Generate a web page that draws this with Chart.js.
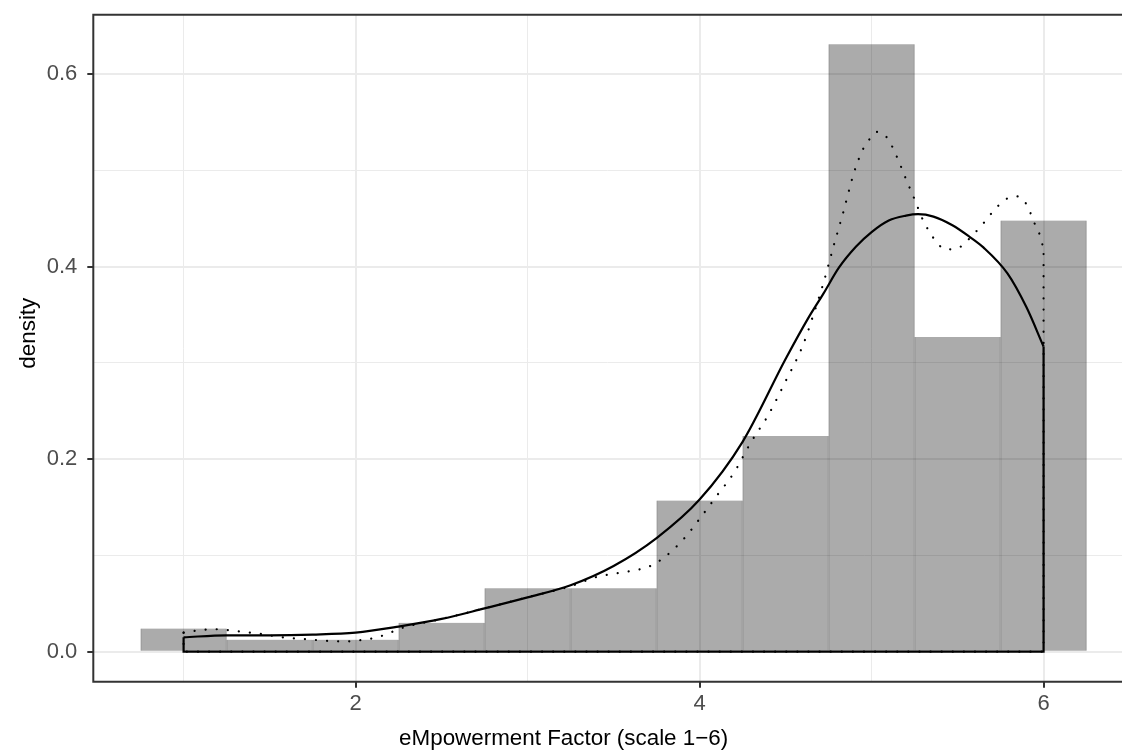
<!DOCTYPE html>
<html>
<head>
<meta charset="utf-8">
<script src="https://cdn.jsdelivr.net/npm/chart.js@4"></script>
<style>
  html, body { margin: 0; padding: 0; background: #fff; }
  #chart { display: block; }
</style>
</head>
<body>
<canvas id="chart" width="1122" height="755"></canvas>
<script>
// histogram bins (centres, width 0.5) and their density
const binCenters = [1, 1.5, 2, 2.5, 3, 3.5, 4, 4.5, 5, 5.5, 6];
const binDensity = [0.024, 0.0125, 0.0125, 0.030, 0.066, 0.066, 0.157, 0.224, 0.631, 0.327, 0.448];

// smooth density (solid line)
const smoothX = [1.0, 1.25, 1.5, 1.75, 2.0, 2.25, 2.5, 2.75, 3.0, 3.25, 3.5, 3.75, 4.0, 4.25, 4.5, 4.63, 4.72, 4.81, 4.91, 5.0, 5.1, 5.2, 5.27, 5.36, 5.47, 5.57, 5.65, 5.79, 5.9, 6.0];
const smoothY = [0.0149, 0.017, 0.017, 0.0177, 0.0197, 0.026, 0.034, 0.045, 0.0564, 0.069, 0.089, 0.118, 0.158, 0.218, 0.304, 0.346, 0.372, 0.399, 0.421, 0.436, 0.448, 0.453, 0.4545, 0.452, 0.443, 0.431, 0.420, 0.393, 0.358, 0.317];

// narrow-bandwidth density (dotted line)
const roughX = [1.0, 1.07, 1.15, 1.2, 1.27, 1.35, 1.45, 1.55, 1.65, 1.75, 1.85, 1.95, 2.0, 2.08, 2.15, 2.21, 2.27, 2.5, 2.75, 3.0, 3.25, 3.4, 3.52, 3.65, 3.72, 3.78, 3.85, 3.92, 4.0, 4.1, 4.2, 4.3, 4.4, 4.5, 4.6, 4.66, 4.72, 4.78, 4.83, 4.9, 4.95, 5.0, 5.03, 5.09, 5.15, 5.2, 5.25, 5.3, 5.34, 5.38, 5.43, 5.5, 5.55, 5.6, 5.65, 5.7, 5.78, 5.85, 5.9, 5.95, 5.98, 6.0];
const roughY = [0.0197, 0.0218, 0.0232, 0.0233, 0.0222, 0.0205, 0.0184, 0.0155, 0.0137, 0.0124, 0.011, 0.0107, 0.0114, 0.0132, 0.0163, 0.0204, 0.0246, 0.034, 0.045, 0.0565, 0.068, 0.0775, 0.0815, 0.0855, 0.0895, 0.096, 0.1065, 0.1196, 0.138, 0.162, 0.186, 0.218, 0.246, 0.281, 0.318, 0.349, 0.383, 0.422, 0.453, 0.499, 0.522, 0.535, 0.540, 0.534, 0.513, 0.491, 0.470, 0.448, 0.4353, 0.425, 0.418, 0.419, 0.426, 0.435, 0.445, 0.456, 0.470, 0.473, 0.465, 0.444, 0.432, 0.418];

const xTicks = [1, 2, 3, 4, 5, 6];
const yTicks = [0, 0.1, 0.2, 0.3, 0.4, 0.5, 0.6];
// right side of the panel runs past the edge of the picture
const xLimits = [0.475, 6.456];
const yLimits = [-0.0312, 0.6618];

const xTitle = 'eMpowerment Factor (scale 1\u22126)';
const yTitle = 'density';

const toPoints = (xs, ys) => xs.map((x, i) => ({ x: x, y: ys[i] }));

// the closed part of each density outline: down at 1, along 0, up at 6
const edge = (xs, ys) => [
    { x: xs[0], y: ys[0] },
    { x: xs[0], y: 0 },
    { x: xs[xs.length - 1], y: 0 },
    { x: xs[xs.length - 1], y: ys[ys.length - 1] }
];

const FONT = '"Liberation Sans", Arial, Helvetica, sans-serif';
const isMajorX = v => Math.round(v) % 2 === 0;
const isMajorY = v => Math.round(v * 10) % 2 === 0;

// panel border (left, top, bottom; the right one is outside the picture)
const panelBorder = {
    id: 'panelBorder',
    afterDatasetsDraw(chart) {
        const a = chart.chartArea;
        const ctx = chart.ctx;
        ctx.save();
        ctx.strokeStyle = '#333333';
        ctx.lineWidth = 2;
        ctx.beginPath();
        ctx.moveTo(a.right + 5, a.top);
        ctx.lineTo(a.left, a.top);
        ctx.lineTo(a.left, a.bottom);
        ctx.lineTo(a.right + 5, a.bottom);
        ctx.stroke();
        ctx.restore();
    }
};

// axis titles, placed where the original has them
const axisTitles = {
    id: 'axisTitles',
    afterDraw(chart) {
        const a = chart.chartArea;
        const ctx = chart.ctx;
        ctx.save();
        ctx.fillStyle = '#000';
        ctx.font = '22.4px ' + FONT;
        ctx.textAlign = 'center';
        ctx.textBaseline = 'alphabetic';
        ctx.fillText(xTitle, (a.left + a.right) / 2 - 44, a.bottom + 63);
        ctx.translate(35, (a.top + a.bottom) / 2 - 15);
        ctx.rotate(-Math.PI / 2);
        ctx.fillText(yTitle, 0, 0);
        ctx.restore();
    }
};

const ctx = document.getElementById('chart').getContext('2d');

new Chart(ctx, {
    data: {
        datasets: [
            {
                type: 'line',
                data: toPoints(smoothX, smoothY),
                borderColor: '#000',
                borderWidth: 2.2,
                cubicInterpolationMode: 'monotone',
                pointRadius: 0,
                fill: false,
                order: 1
            },
            {
                type: 'line',
                data: edge(smoothX, smoothY),
                borderColor: '#000',
                borderWidth: 2.2,
                tension: 0,
                pointRadius: 0,
                fill: false,
                order: 1
            },
            {
                type: 'line',
                data: toPoints(roughX, roughY),
                borderColor: '#000',
                borderWidth: 2.2,
                borderDash: [0.1, 11],
                borderCapStyle: 'round',
                cubicInterpolationMode: 'monotone',
                pointRadius: 0,
                fill: false,
                order: 2
            },
            {
                type: 'line',
                data: edge(roughX, roughY),
                borderColor: '#000',
                borderWidth: 2.2,
                borderDash: [0.1, 11],
                borderCapStyle: 'round',
                tension: 0,
                pointRadius: 0,
                fill: false,
                order: 2
            },
            {
                type: 'bar',
                data: toPoints(binCenters, binDensity),
                backgroundColor: 'rgba(0,0,0,0.33)',
                borderColor: 'rgba(0,0,0,0.18)',
                borderWidth: { left: 0.5, right: 0.5, top: 0, bottom: 0 },
                borderSkipped: false,
                barPercentage: 1,
                categoryPercentage: 1,
                order: 3
            }
        ]
    },
    options: {
        responsive: false,
        animation: false,
        devicePixelRatio: 1,
        layout: { padding: { left: 0, top: 14.7, right: 0, bottom: 0 } },
        plugins: {
            legend: { display: false },
            tooltip: { enabled: false }
        },
        scales: {
            x: {
                type: 'linear',
                offset: false,
                min: xLimits[0],
                max: xLimits[1],
                afterBuildTicks: scale => { scale.ticks = xTicks.map(v => ({ value: v })); },
                afterFit: scale => {
                    scale.height = 73.3;
                    scale.paddingLeft = 0;
                    scale.paddingRight = 0;
                },
                border: { display: false },
                grid: {
                    offset: false,
                    color: '#ebebeb',
                    lineWidth: c => (c.tick && isMajorX(c.tick.value)) ? 2 : 1,
                    drawTicks: true,
                    tickLength: 6,
                    tickWidth: 2,
                    tickColor: c => (c.tick && isMajorX(c.tick.value)) ? '#333333' : 'rgba(0,0,0,0)'
                },
                ticks: {
                    color: '#4d4d4d',
                    font: { family: FONT, size: 22 },
                    padding: 3,
                    maxRotation: 0,
                    autoSkip: false,
                    callback: v => isMajorX(v) ? String(v) : ''
                },
                title: { display: false }
            },
            y: {
                type: 'linear',
                min: yLimits[0],
                max: yLimits[1],
                afterBuildTicks: scale => { scale.ticks = yTicks.map(v => ({ value: v })); },
                afterFit: scale => {
                    scale.width = 93.3;
                    scale.paddingTop = 0;
                    scale.paddingBottom = 0;
                },
                border: { display: false },
                grid: {
                    color: '#ebebeb',
                    lineWidth: c => (c.tick && isMajorY(c.tick.value)) ? 2 : 1,
                    drawTicks: true,
                    tickLength: 6,
                    tickWidth: 2,
                    tickColor: c => (c.tick && isMajorY(c.tick.value)) ? '#333333' : 'rgba(0,0,0,0)'
                },
                ticks: {
                    color: '#4d4d4d',
                    font: { family: FONT, size: 22 },
                    padding: 10,
                    autoSkip: false,
                    callback: v => isMajorY(v) ? v.toFixed(1) : ''
                },
                title: { display: false }
            }
        }
    },
    plugins: [panelBorder, axisTitles]
});
</script>
</body>
</html>
